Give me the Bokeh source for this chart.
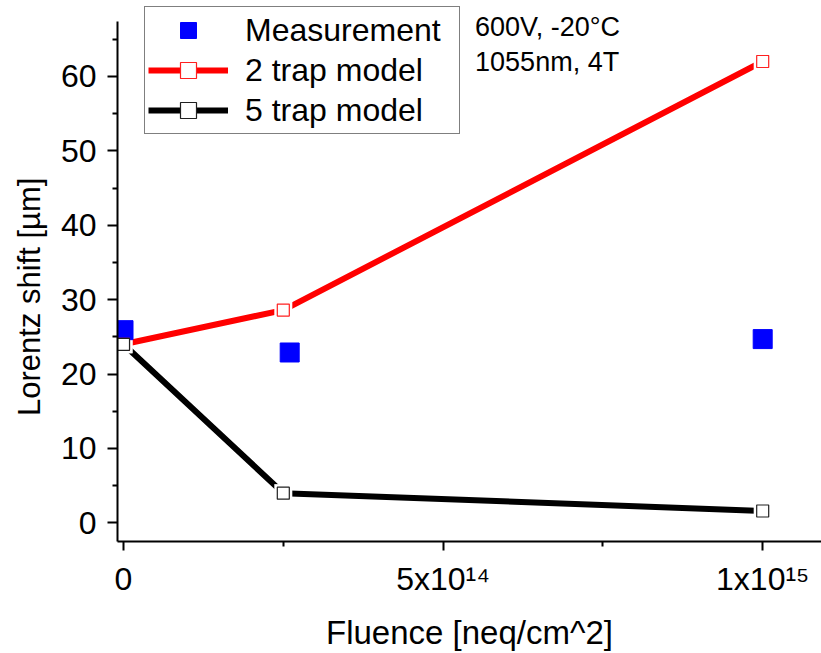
from bokeh.plotting import figure
from bokeh.models import Range1d, FixedTicker, Label, Legend, LegendItem
from bokeh.embed import file_html
from bokeh.resources import INLINE

# ---- data ----
fluence_meas = [0.0, 2.6e14, 1.0e15]
shift_meas = [25.9, 22.9, 24.7]

fluence_model = [0.0, 2.5e14, 1.0e15]
shift_2trap = [24.0, 28.6, 62.0]
shift_5trap = [24.0, 4.0, 1.6]

x_major = [0.0, 5e14, 1e15]
x_minor = [2.5e14, 7.5e14]
x_tick_labels = ["0", "5x10\u00b9\u2074", "1x10\u00b9\u2075"]

y_major = [0, 10, 20, 30, 40, 50, 60]
y_minor = [5, 15, 25, 35, 45, 55, 65]

note_lines = ["600V, -20°C", "1055nm, 4T"]
series_names = ["Measurement", "2 trap model", "5 trap model"]
x_title = "Fluence [neq/cm^2]"
y_title = "Lorentz shift [µm]"

FONT = "Liberation Sans"
X_START, X_END = -9.4e12, 1.092e15
Y_START, Y_END = -2.5, 70.2
Y_AXIS_TOP = 67.4

p = figure(width=821, height=653, output_backend="svg", toolbar_location=None,
           x_range=Range1d(X_START, X_END), y_range=Range1d(Y_START, Y_END),
           min_border_left=117, min_border_right=0, min_border_top=0,
           min_border_bottom=111)
p.outline_line_color = None
p.xgrid.visible = False
p.ygrid.visible = False
p.background_fill_color = "white"
p.border_fill_color = "white"

# axes
for ax in (p.xaxis[0], p.yaxis[0]):
    ax.axis_line_width = 2
    ax.axis_line_color = "black"
    ax.major_tick_line_width = 2
    ax.minor_tick_line_width = 2
    ax.major_tick_line_color = "black"
    ax.minor_tick_line_color = "black"
    ax.major_tick_in = 0
    ax.minor_tick_in = 0
    ax.major_label_text_font = FONT
    ax.major_label_text_font_size = "32px"
    ax.major_label_text_color = "black"
    ax.axis_label_text_font = FONT
    ax.axis_label_text_font_style = "normal"
    ax.axis_label_text_color = "black"

p.xaxis.ticker = FixedTicker(ticks=x_major, minor_ticks=x_minor)
p.xaxis.major_tick_out = 9
p.xaxis.minor_tick_out = 5
p.xaxis.major_label_standoff = 10
p.xaxis.major_label_overrides = {x_major[i]: x_tick_labels[i] for i in range(len(x_major))}
p.xaxis.axis_label = x_title
p.xaxis.axis_label_text_font_size = "33px"
p.xaxis.axis_label_standoff = 14

p.yaxis.ticker = FixedTicker(ticks=y_major, minor_ticks=y_minor)
p.yaxis.bounds = (Y_START, Y_AXIS_TOP)
p.yaxis.major_tick_out = 10
p.yaxis.minor_tick_out = 5
p.yaxis.major_label_standoff = 11
# trailing no-break spaces shift the centred title down along the axis
p.yaxis.axis_label = y_title + "\u00a0" * 6
p.yaxis.axis_label_text_font_size = "31px"
p.yaxis.axis_label_standoff = 11

# data
l2 = p.line(fluence_model, shift_2trap, line_color="#FF0000", line_width=6)
l5 = p.line(fluence_model, shift_5trap, line_color="black", line_width=6)
# white halos leave small gaps in the lines around the model markers
p.scatter(fluence_model, shift_2trap, marker="square", size=18,
          fill_color="white", line_color=None)
p.scatter(fluence_model, shift_5trap, marker="square", size=18,
          fill_color="white", line_color=None)
r_meas = p.scatter(fluence_meas, shift_meas, marker="square", size=19,
                   fill_color="#0000FF", line_color="#0000FF")
m2 = p.scatter(fluence_model, shift_2trap, marker="square", size=12,
               fill_color="white", line_color="#FF2020", line_width=1.2)
m5 = p.scatter(fluence_model, shift_5trap, marker="square", size=12,
               fill_color="white", line_color="#202020", line_width=1.2)

legend = Legend(items=[
    LegendItem(label=series_names[0], renderers=[r_meas]),
    LegendItem(label=series_names[1], renderers=[l2, m2]),
    LegendItem(label=series_names[2], renderers=[l5, m5]),
], location=(27, 407))
legend.label_text_font = FONT
legend.label_text_font_size = "32px"
legend.label_text_color = "black"
legend.glyph_width = 80
legend.glyph_height = 40
legend.label_standoff = 17
legend.label_width = 211
legend.padding = 3
legend.spacing = 0
legend.margin = 0
legend.border_line_color = "black"
legend.border_line_width = 1
legend.background_fill_color = "white"
legend.background_fill_alpha = 1
p.add_layout(legend)

# annotation
for j, line in enumerate(note_lines):
    p.add_layout(Label(x=5.5e14, y=Y_END, y_offset=-26 - 35 * j, text=line,
                       text_align="left", text_baseline="alphabetic",
                       text_font=FONT, text_font_size="27px",
                       text_color="black"))

open("out.html", "w").write(file_html(p, INLINE))
